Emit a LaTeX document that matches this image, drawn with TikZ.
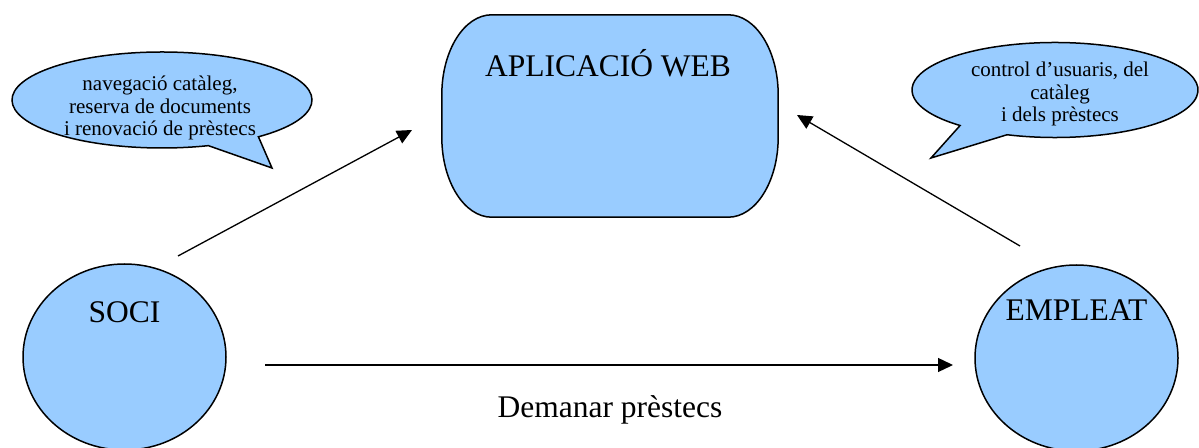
\documentclass[tikz,border=0pt]{standalone}
\usepackage{fontspec}
\setmainfont{Liberation Serif}
\usetikzlibrary{shapes.geometric,arrows.meta}
\definecolor{paleblue}{HTML}{99CCFF}
\tikzset{
  actor/.style={ellipse, draw=black, fill=paleblue, line width=1.5pt,
    minimum width=203pt, minimum height=186pt, inner sep=0pt},
  shapeline/.style={draw=black, fill=paleblue, line width=1.5pt},
  bigtext/.style={font=\fontsize{31.5}{36}\selectfont, inner sep=0pt},
  smalltext/.style={font=\fontsize{21}{22.6}\selectfont, align=center, inner sep=0pt},
  flow/.style={line width=1.3pt, -{Triangle[length=15pt,width=14pt]}}
}
\begin{document}
\begin{tikzpicture}[x=1pt,y=1pt]
\useasboundingbox (0,0) rectangle (1199,447);

% web application block with elliptical corners
\node[minimum width=336pt, minimum height=202pt, inner sep=0pt] (app) at (610,331) {};
\path[shapeline] ([xshift=50pt]app.north west) -- ([xshift=-50pt]app.north east)
  arc[start angle=90, end angle=0, x radius=50, y radius=80]
  -- ([yshift=80pt]app.south east)
  arc[start angle=0, end angle=-90, x radius=50, y radius=80]
  -- ([xshift=50pt]app.south west)
  arc[start angle=270, end angle=180, x radius=50, y radius=80]
  -- ([yshift=-80pt]app.north west)
  arc[start angle=180, end angle=90, x radius=50, y radius=80] -- cycle;
\node[bigtext] (apptxt) at (608,384) {APLICACIÓ WEB};

% actors
\node[actor] (soci) at (124.5,90) {};
\node[bigtext] (socitxt) at ([yshift=45pt]soci.center) {SOCI};
\node[actor] (empleat) at (1076.5,89) {};
\node[bigtext] (empleattxt) at ([yshift=48pt]empleat.center) {EMPLEAT};

% speech bubbles
\coordinate (lbc) at (162,347);
\coordinate (lbtip) at (272,279);
\path[shapeline] ([shift={(-50:150 and 48)}]lbc)
  arc[start angle=-50, end angle=288, x radius=150, y radius=48]
  -- (lbtip) -- cycle;
\node[smalltext] (lbtxt) at (160,339) {navegació catàleg,\\reserva de documents\\i renovació de prèstecs};

\coordinate (rbc) at (1055,357);
\coordinate (rbtip) at (931,289);
\path[shapeline] ([shift={(-109.6:143 and 47.5)}]rbc)
  arc[start angle=-109.6, end angle=228.4, x radius=143, y radius=47.5]
  -- (rbtip) -- cycle;
\node[smalltext] (rbtxt) at (1060,353) {control d’usuaris, del\\catàleg\\i dels prèstecs};

% connectors
\coordinate (s1) at (178,191);
\coordinate (s2) at (412,317);
\coordinate (e1) at (1020,201);
\coordinate (e2) at (797,332);
\coordinate (h1) at (265,82);
\coordinate (h2) at (953,82);
\draw[flow] (s1) -- (s2);
\draw[flow] (e1) -- (e2);
\draw[flow] (h1) -- (h2);
\node[bigtext] (req) at (610,37) {Demanar prèstecs};
\end{tikzpicture}
\end{document}
